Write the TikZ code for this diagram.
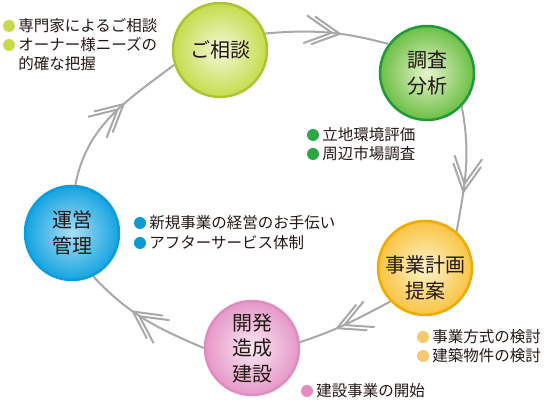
\documentclass[tikz,border=0pt]{standalone}
\usepackage{fontspec}
\setmainfont{Noto Sans CJK JP}
\usetikzlibrary{positioning,decorations.markings}
\definecolor{TextDark}{HTML}{231815}
\definecolor{RingGray}{HTML}{A8A8A8}
\definecolor{LimeEdge}{HTML}{A9C534}
\definecolor{LimeOut}{HTML}{C6DC4C}
\definecolor{LimeIn}{HTML}{F3F8DA}
\definecolor{LimeDot}{HTML}{C9D94C}
\definecolor{GreenEdge}{HTML}{1F9A3A}
\definecolor{GreenOut}{HTML}{6CBF45}
\definecolor{GreenIn}{HTML}{E6F4CA}
\definecolor{GreenDot}{HTML}{2BA845}
\definecolor{OrangeEdge}{HTML}{F2A900}
\definecolor{OrangeOut}{HTML}{F8C443}
\definecolor{OrangeIn}{HTML}{FFF3CB}
\definecolor{OrangeDot}{HTML}{F6C870}
\definecolor{PinkEdge}{HTML}{E28BBF}
\definecolor{PinkOut}{HTML}{E598C8}
\definecolor{PinkIn}{HTML}{FAE7F2}
\definecolor{PinkDot}{HTML}{E48CBF}
\definecolor{BlueEdge}{HTML}{0A9DDD}
\definecolor{BlueOut}{HTML}{14A4E0}
\definecolor{BlueIn}{HTML}{A9DEF6}
\definecolor{BlueDot}{HTML}{0C9AD6}
\newcommand{\chevrons}{%
  \draw[RingGray, line width=2pt] (-27pt,14pt) -- (0pt,0pt) -- (-27pt,-14pt);
  \draw[RingGray, line width=2pt] (-35pt,14pt) -- (-8pt,0pt) -- (-35pt,-14pt);}

\begin{document}
\begin{tikzpicture}[x=1pt, y=1pt,
        stage/.style={circle, minimum size=94pt, inner sep=0pt, line width=2.5pt,
                      align=center, text=TextDark, font=\fontsize{20}{25.5}\selectfont},
        dot/.style={circle, minimum size=12pt, inner sep=0pt, fill=#1},
        note/.style={inner sep=0pt, text=TextDark, font=\fontsize{15.5}{19}\selectfont},
        ring/.style={line width=2pt, draw=RingGray, postaction={decorate},
                     decoration={markings, mark=at position #1 with {\chevrons}}},
        ring/.default=0.6
    ]
        \useasboundingbox (0,0) rectangle (546,406);

        \node[stage, draw=LimeEdge, inner color=LimeIn, outer color=LimeOut] (consult) at (220,356) {ご相談};
        \node[stage, draw=GreenEdge, inner color=GreenIn, outer color=GreenOut] (survey) at (427,333) {調査\\分析};
        \node[stage, draw=OrangeEdge, inner color=OrangeIn, outer color=OrangeOut,
              label={[align=center, text=TextDark, font=\fontsize{20}{25.5}\selectfont, yshift=-10pt]center:事業計画\\提案}] (plan) at (425,138) {};
        \node[stage, draw=PinkEdge, inner color=PinkIn, outer color=PinkOut] (build) at (252,58) {開発\\造成\\建設};
        \node[stage, draw=BlueEdge, inner color=BlueIn, outer color=BlueOut] (operate) at (72,173) {運営\\管理};

        \draw[ring] (consult.20) to[out=5, in=165] (survey.143);
        \draw[ring=0.68] (survey.-44) to[out=-79, in=80] (plan.49);
        \draw[ring] (plan.224) to[out=208, in=18] (build.7);
        \draw[ring] (build.180) to[out=157, in=-47] (operate.-64);
        \draw[ring] (operate.86) to[out=79, in=217] (consult.198);

        % notes
        \node[dot=LimeDot] (lime1) at (9,380) {};
        \node[note, right=3pt of lime1] (limeText1) {専門家によるご相談};
        \node[dot=LimeDot] (lime2) at (9,361) {};
        \node[note, right=3pt of lime2] (limeText2) {オーナー様ニーズの};
        \node[note, below=3.5pt of limeText2.south west, anchor=north west] (limeText3) {的確な把握};

        \node[dot=GreenDot] (green1) at (313,271) {};
        \node[note, right=3pt of green1] (greenText1) {立地環境評価};
        \node[dot=GreenDot] (green2) at (313,252) {};
        \node[note, right=3pt of green2] (greenText2) {周辺市場調査};

        \node[dot=BlueDot] (blue1) at (140,183) {};
        \node[note, right=3pt of blue1] (blueText1) {新規事業の経営のお手伝い};
        \node[dot=BlueDot] (blue2) at (140,163) {};
        \node[note, right=3pt of blue2] (blueText2) {アフターサービス体制};

        \node[dot=OrangeDot] (orange1) at (423,69) {};
        \node[note, right=3pt of orange1] (orangeText1) {事業方式の検討};
        \node[dot=OrangeDot] (orange2) at (423,50) {};
        \node[note, right=3pt of orange2] (orangeText2) {建築物件の検討};

        \node[dot=PinkDot] (pink1) at (307,15) {};
        \node[note, right=3pt of pink1] (pinkText1) {建設事業の開始};
    \end{tikzpicture}
\end{document}
